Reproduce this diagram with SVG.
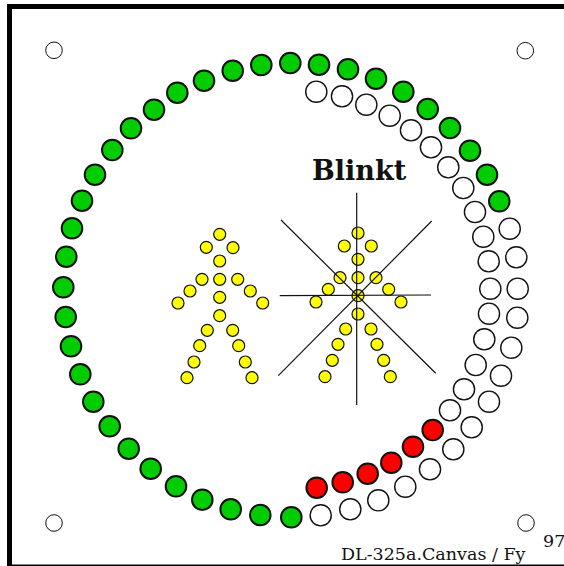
<svg xmlns="http://www.w3.org/2000/svg" width="564" height="566" viewBox="0 0 564 566">
<style>
.g{fill:#00cc00;stroke:#111;stroke-width:2}
.r{fill:#ff0000;stroke:#111;stroke-width:2}
.w{fill:#fff;stroke:#111;stroke-width:1.4}
.c{fill:#fff;stroke:#111;stroke-width:1}
.y{fill:#ffff00;stroke:#111;stroke-width:1.2}
.l{stroke:#111;stroke-width:1.2;fill:none}
text{font-family:"DejaVu Serif","Liberation Serif",serif;fill:#111}
</style>
<rect x="0" y="0" width="564" height="566" fill="#fff"/>
<rect id="frame" x="9.5" y="6.5" width="570" height="560.5" fill="#fff" stroke="#000" stroke-width="5"/>
<g id="corners">
<circle class="c" cx="54" cy="50.3" r="8.3"/><circle class="c" cx="525.3" cy="50.7" r="8.3"/><circle class="c" cx="54" cy="523" r="8.3"/><circle class="c" cx="526" cy="523" r="8.3"/>
</g>
<g id="green-ring">
<circle class="g" cx="290.3" cy="63" r="10.3"/><circle class="g" cx="261.3" cy="65" r="10.3"/><circle class="g" cx="232.7" cy="70.7" r="10.3"/><circle class="g" cx="204" cy="80.7" r="10.3"/><circle class="g" cx="177.3" cy="92.7" r="10.3"/><circle class="g" cx="154" cy="109.7" r="10.3"/><circle class="g" cx="131" cy="128.3" r="10.3"/><circle class="g" cx="112.3" cy="150" r="10.3"/><circle class="g" cx="95" cy="174.7" r="10.3"/><circle class="g" cx="82" cy="200.7" r="10.3"/><circle class="g" cx="72" cy="228.3" r="10.3"/><circle class="g" cx="66.3" cy="256.7" r="10.3"/><circle class="g" cx="63.3" cy="287.3" r="10.3"/><circle class="g" cx="65.7" cy="317" r="10.3"/><circle class="g" cx="71" cy="346.3" r="10.3"/><circle class="g" cx="80.3" cy="374.3" r="10.3"/><circle class="g" cx="93.3" cy="401.7" r="10.3"/><circle class="g" cx="109.7" cy="426.3" r="10.3"/><circle class="g" cx="128.7" cy="448.7" r="10.3"/><circle class="g" cx="150.7" cy="468.7" r="10.3"/><circle class="g" cx="176" cy="486.3" r="10.3"/><circle class="g" cx="202.3" cy="499.7" r="10.3"/><circle class="g" cx="230.7" cy="509.3" r="10.3"/><circle class="g" cx="260.3" cy="515" r="10.3"/><circle class="g" cx="291.3" cy="517.3" r="10.3"/>
<circle class="g" cx="319" cy="64.7" r="10.3"/><circle class="g" cx="348" cy="69.3" r="10.3"/><circle class="g" cx="376" cy="78.7" r="10.3"/><circle class="g" cx="403.3" cy="91.7" r="10.3"/><circle class="g" cx="427.7" cy="109" r="10.3"/><circle class="g" cx="450" cy="128" r="10.3"/><circle class="g" cx="470" cy="150.7" r="10.3"/><circle class="g" cx="487" cy="174.7" r="10.3"/><circle class="g" cx="499.3" cy="201.3" r="10.3"/>
</g>
<g id="white-inner">
<circle class="w" cx="316.3" cy="91.7" r="10.6"/><circle class="w" cx="342" cy="96.3" r="10.6"/><circle class="w" cx="366.3" cy="104.7" r="10.6"/><circle class="w" cx="389.7" cy="115.7" r="10.6"/><circle class="w" cx="411" cy="130.3" r="10.6"/><circle class="w" cx="431" cy="147.3" r="10.6"/><circle class="w" cx="448.3" cy="167.3" r="10.6"/><circle class="w" cx="463.3" cy="188" r="10.6"/><circle class="w" cx="475" cy="212" r="10.6"/><circle class="w" cx="483.3" cy="236.7" r="10.6"/><circle class="w" cx="488.7" cy="261.3" r="10.6"/><circle class="w" cx="490.3" cy="288.7" r="10.6"/><circle class="w" cx="489" cy="313.7" r="10.6"/><circle class="w" cx="484.3" cy="339.3" r="10.6"/><circle class="w" cx="475.7" cy="365" r="10.6"/><circle class="w" cx="464" cy="389.3" r="10.6"/><circle class="w" cx="450" cy="410.3" r="10.6"/>
</g>
<g id="red-arc">
<circle class="r" cx="432.7" cy="430" r="10.3"/><circle class="r" cx="413" cy="446.7" r="10.3"/><circle class="r" cx="391.3" cy="462.7" r="10.3"/><circle class="r" cx="367.7" cy="473.7" r="10.3"/><circle class="r" cx="342.7" cy="482.3" r="10.3"/><circle class="r" cx="316.7" cy="487.7" r="10.3"/>
</g>
<g id="white-outer">
<circle class="w" cx="509.7" cy="228.7" r="10.6"/><circle class="w" cx="516.3" cy="257.3" r="10.6"/><circle class="w" cx="517.7" cy="288.7" r="10.6"/><circle class="w" cx="517.3" cy="317.7" r="10.6"/><circle class="w" cx="511.3" cy="347.7" r="10.6"/><circle class="w" cx="501" cy="375.7" r="10.6"/><circle class="w" cx="489" cy="401.7" r="10.6"/><circle class="w" cx="471.7" cy="427.3" r="10.6"/><circle class="w" cx="453.3" cy="449.3" r="10.6"/><circle class="w" cx="430" cy="469.3" r="10.6"/><circle class="w" cx="405.3" cy="486.7" r="10.6"/><circle class="w" cx="378.3" cy="500.3" r="10.6"/><circle class="w" cx="350.3" cy="509.3" r="10.6"/><circle class="w" cx="320.7" cy="515.3" r="10.6"/>
</g>
<g id="figure-left">
<circle class="y" cx="219.7" cy="234.3" r="6"/><circle class="y" cx="206.3" cy="247.3" r="6"/><circle class="y" cx="233" cy="247.7" r="6"/><circle class="y" cx="219.7" cy="261" r="6"/><circle class="y" cx="202" cy="279.3" r="6"/><circle class="y" cx="219.7" cy="279.3" r="6"/><circle class="y" cx="237.7" cy="279.3" r="6"/><circle class="y" cx="190" cy="291" r="6"/><circle class="y" cx="250.3" cy="291" r="6"/><circle class="y" cx="178" cy="303" r="6"/><circle class="y" cx="262.7" cy="303" r="6"/><circle class="y" cx="219.7" cy="297.3" r="6"/><circle class="y" cx="219.7" cy="315.7" r="6"/><circle class="y" cx="207.3" cy="330.3" r="6"/><circle class="y" cx="232.7" cy="330.3" r="6"/><circle class="y" cx="199.7" cy="345.7" r="6"/><circle class="y" cx="238.7" cy="345.7" r="6"/><circle class="y" cx="194" cy="362" r="6"/><circle class="y" cx="245.3" cy="362" r="6"/><circle class="y" cx="187" cy="377.7" r="6"/><circle class="y" cx="252" cy="377.7" r="6"/>
</g>
<g id="figure-right">
<circle class="y" cx="358" cy="233" r="6"/><circle class="y" cx="344.3" cy="246" r="6"/><circle class="y" cx="371.3" cy="246" r="6"/><circle class="y" cx="358" cy="259.3" r="6"/><circle class="y" cx="340" cy="277.7" r="6"/><circle class="y" cx="358" cy="277.7" r="6"/><circle class="y" cx="376" cy="277.7" r="6"/><circle class="y" cx="328.3" cy="289.3" r="6"/><circle class="y" cx="388.7" cy="289.3" r="6"/><circle class="y" cx="316" cy="302" r="6"/><circle class="y" cx="401" cy="302" r="6"/><circle class="y" cx="358" cy="295.7" r="6"/><circle class="y" cx="358" cy="314" r="6"/><circle class="y" cx="345.7" cy="329" r="6"/><circle class="y" cx="371" cy="329" r="6"/><circle class="y" cx="338" cy="344.3" r="6"/><circle class="y" cx="377" cy="344.3" r="6"/><circle class="y" cx="332.3" cy="360.3" r="6"/><circle class="y" cx="383.7" cy="360.3" r="6"/><circle class="y" cx="325" cy="376.7" r="6"/><circle class="y" cx="390.3" cy="376.7" r="6"/>
</g>
<g id="connectors">
<line class="l" x1="356.7" y1="192.7" x2="356.7" y2="405"/>
<line class="l" x1="279.7" y1="295.7" x2="431" y2="295"/>
<line class="l" x1="281" y1="220" x2="435.7" y2="373.3"/>
<line class="l" x1="431.7" y1="221" x2="278.3" y2="375.7"/>
</g>
<text id="title" x="312" y="180" font-size="27" font-weight="700">Blinkt</text>
<text id="footer" x="341" y="560" font-size="17.5">DL-325a.Canvas / Fy</text>
<text id="page" x="543" y="547" font-size="17.5">97</text>
</svg>
